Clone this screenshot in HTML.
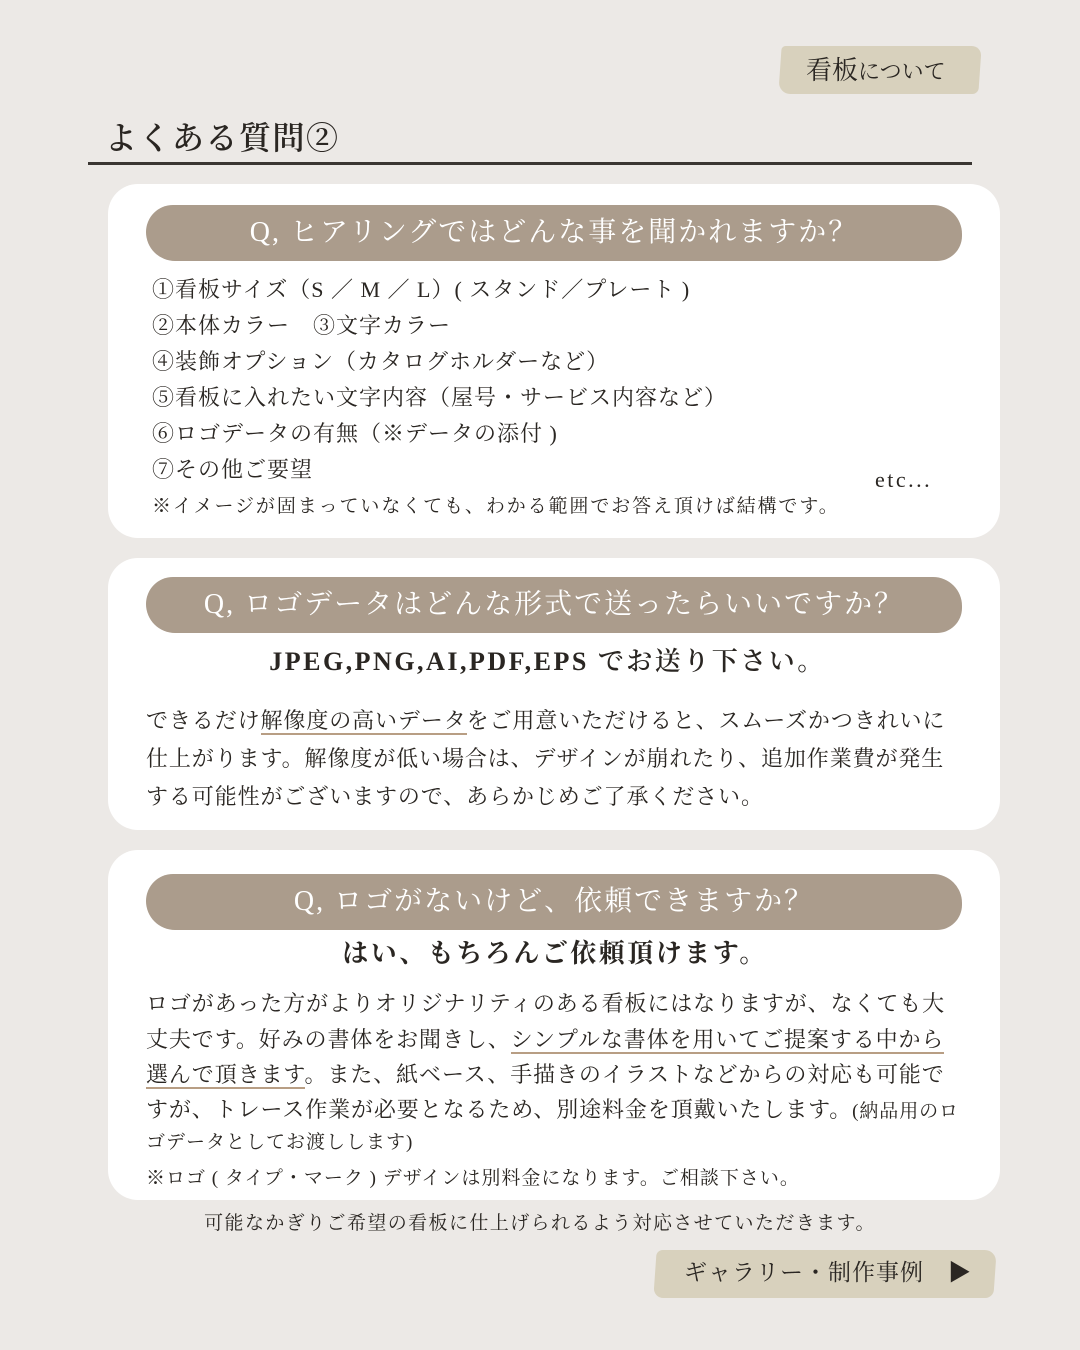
<!DOCTYPE html>
<html><head><meta charset="utf-8">
<style>
*{margin:0;padding:0;box-sizing:border-box}
body{width:1080px;height:1350px;background:#ece9e6;position:relative;overflow:hidden;font-family:"Liberation Serif","Noto Serif CJK SC","Noto Serif CJK JP",serif;color:#2a2622}
.abs{position:absolute;white-space:nowrap}
.card{position:absolute;left:108px;width:892px;background:#fff;border-radius:30px}
.q{position:absolute;left:146px;width:816px;height:56px;background:#ab9c8c;border-radius:28px 30px 26px 30px;color:#fff;font-size:28px;text-align:center;line-height:56px;letter-spacing:2px}
.l{position:absolute;white-space:nowrap;font-size:22px;line-height:30px;letter-spacing:0.9px}
.u{border-bottom:2px solid #b89e84}
</style></head><body>
<div class="abs" style="left:780px;top:46px;width:200px;height:48px;background:#d8d1bd;border-radius:4px 10px 6px 12px;transform:skewX(-4deg)"></div>
<div class="abs" style="left:806px;top:54px;font-size:26px;line-height:34px">看板<span style="font-size:22px">について</span></div>
<div class="abs" style="left:105px;top:116px;font-size:32px;line-height:44px;letter-spacing:1.5px;font-weight:600">よくある質問②</div>
<div class="abs" style="left:88px;top:162px;width:884px;height:3px;background:#3a3632"></div>

<div class="card" style="top:184px;height:354px"></div>
<div class="q" style="top:205px">Q, ヒアリングではどんな事を聞かれますか？</div>
<div class="l" style="left:152px;top:275px;letter-spacing:1px">①看板サイズ（S ／ M ／ L）( スタンド／プレート )</div>
<div class="l" style="left:152px;top:311px;letter-spacing:1px">②本体カラー　③文字カラー</div>
<div class="l" style="left:152px;top:347px;letter-spacing:1px">④装飾オプション（カタログホルダーなど）</div>
<div class="l" style="left:152px;top:383px;letter-spacing:1px">⑤看板に入れたい文字内容（屋号・サービス内容など）</div>
<div class="l" style="left:152px;top:419px;letter-spacing:1px">⑥ロゴデータの有無（※データの添付 )</div>
<div class="l" style="left:152px;top:455px;letter-spacing:1px">⑦その他ご要望</div>
<div class="l" style="left:875px;top:465px;letter-spacing:2.5px">etc...</div>
<div class="l" style="left:152px;top:492px;font-size:19px;letter-spacing:1.9px">※イメージが固まっていなくても、わかる範囲でお答え頂けば結構です。</div>

<div class="card" style="top:558px;height:272px"></div>
<div class="q" style="top:577px">Q, ロゴデータはどんな形式で送ったらいいですか？</div>
<div class="abs" style="left:0;width:1095px;text-align:center;top:644px;font-size:26px;line-height:36px;font-weight:600;letter-spacing:2.5px">JPEG,PNG,AI,PDF,EPS でお送り下さい。</div>
<div class="l" style="left:146px;top:706px">できるだけ<span class="u">解像度の高いデータ</span>をご用意いただけると、スムーズかつきれいに</div>
<div class="l" style="left:146px;top:744px">仕上がります。解像度が低い場合は、デザインが崩れたり、追加作業費が発生</div>
<div class="l" style="left:146px;top:782px">する可能性がございますので、あらかじめご了承ください。</div>

<div class="card" style="top:850px;height:350px"></div>
<div class="q" style="top:874px">Q, ロゴがないけど、依頼できますか？</div>
<div class="abs" style="left:0;width:1110px;text-align:center;top:936px;font-size:26px;line-height:36px;font-weight:bold;letter-spacing:2.5px">はい、もちろんご依頼頂けます。</div>
<div class="l" style="left:146px;top:989px">ロゴがあった方がよりオリジナリティのある看板にはなりますが、なくても大</div>
<div class="l" style="left:146px;top:1025px">丈夫です。好みの書体をお聞きし、<span class="u">シンプルな書体を用いてご提案する中から</span></div>
<div class="l" style="left:146px;top:1060px"><span class="u">選んで頂きます</span>。また、紙ベース、手描きのイラストなどからの対応も可能で</div>
<div class="l" style="left:146px;top:1095px">すが、トレース作業が必要となるため、別途料金を頂戴いたします。<span style="font-size:19px">(納品用のロ</span></div>
<div class="l" style="left:146px;top:1128px;font-size:19px;letter-spacing:1px">ゴデータとしてお渡しします)</div>
<div class="l" style="left:146px;top:1164px;font-size:19px;letter-spacing:1px">※ロゴ ( タイプ・マーク ) デザインは別料金になります。ご相談下さい。</div>
<div class="abs" style="left:0;width:1080px;text-align:center;top:1210px;font-size:19px;line-height:28px;letter-spacing:1.4px">可能なかぎりご希望の看板に仕上げられるよう対応させていただきます。</div>

<div class="abs" style="left:655px;top:1250px;width:340px;height:48px;background:#d8d1bd;border-radius:6px 12px 8px 10px;transform:skewX(-4deg)"></div>
<div class="abs" style="left:684px;top:1257px;font-size:23px;line-height:32px;letter-spacing:1px">ギャラリー・制作事例　▶</div>
</body></html>
